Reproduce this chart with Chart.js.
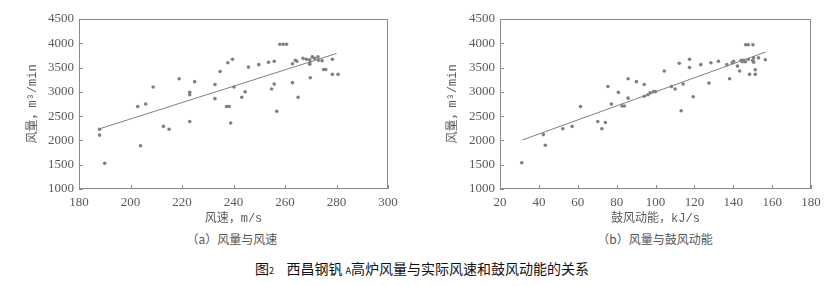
<!DOCTYPE html>
<html>
<head>
<meta charset="utf-8">
<script src="https://cdn.jsdelivr.net/npm/chart.js@4.4.0/dist/chart.umd.min.js"></script>
<style>
  body { margin: 0; background: #fff; width: 837px; height: 286px; position: relative; overflow: hidden; }
  .box { position: absolute; top: 0; width: 420px; height: 230px; }
  .sub { position: absolute; top: 231px; font-family: 'Noto Sans CJK SC', sans-serif; font-size: 12px; color: #555; text-align: center; width: 300px; line-height: 16px; }
  .cap { position: absolute; top: 259px; left: 0; width: 844px; text-align: center; font-family: 'Noto Sans CJK SC', sans-serif; font-size: 14px; color: #111; line-height: 18px; }
  .cap small { font-size: 9px; }
</style>
</head>
<body>
<div class="box" style="left:0"><canvas id="chartA" width="420" height="230"></canvas></div>
<div class="box" style="left:420px"><canvas id="chartB" width="420" height="230"></canvas></div>
<div class="sub" style="left:82px">（a）风量与风速</div>
<div class="sub" style="left:505px">（b）风量与鼓风动能</div>
<div class="cap">图<small>2</small>&nbsp;&nbsp;&nbsp;&nbsp;西昌钢钒 <small>A</small>高炉风量与实际风速和鼓风动能的关系</div>
<script>
// (a) 风速 m/s -> 风量 m3/min
const windSpeed = [188, 188, 190, 202.8, 205.9, 203.9, 208.8, 212.8, 215, 218.9, 223, 223, 223, 224.9,
  232.8, 232.8, 234.8, 237.8, 239.6, 237.3, 238.3, 238.9, 240.2, 243.2, 244.5, 245.8, 249.8, 253.6,
  255.8, 254.8, 255.8, 256.8, 258, 259.3, 260.6, 262.9, 262.9, 264, 264.6, 265.1, 267, 268.3,
  269.6, 269.6, 269.6, 269.8, 270.6, 271.5, 272.8, 273, 274.4, 275, 275.8, 278.4, 278.4, 280.6];
const airVolumeA = [2230, 2110, 1530, 2700, 2750, 1890, 3100, 2290, 2230, 3270, 2990, 2940, 2390, 3210,
  3150, 2860, 3420, 3600, 3670, 2700, 2700, 2360, 3100, 2890, 3000, 3510, 3560, 3610,
  3630, 3060, 3160, 2600, 3980, 3980, 3980, 3190, 3580, 3650, 3630, 2890, 3690, 3670,
  3660, 3600, 3570, 3290, 3720, 3690, 3720, 3650, 3640, 3460, 3460, 3670, 3360, 3360];
const fitSpeed = [188, 280];
const fitVolumeA = [2240, 3790];

// (b) 鼓风动能 kJ/s -> 风量 m3/min
const kineticEnergy = [31.2, 42.3, 43.3, 52.3, 57.1, 61.4, 70.3, 72.4, 74.2, 75.5, 77.3, 80.9, 82.8, 84,
  85.9, 85.9, 90.2, 94.2, 94.2, 96.1, 97.3, 99, 100, 104.5, 108.2, 110.1, 112.2, 113.2, 114.2,
  117.5, 117.5, 119.4, 123.3, 127.5, 128.5, 132.4, 136.7, 138.1, 139.5, 140.2, 142.2, 143.3, 144.1,
  144.6, 145.3, 146.2, 146.4, 147.7, 147.7, 148.4, 150.1, 150, 150.5, 150.5, 151.3, 151.3, 153, 156.5];
const airVolumeB = [1540, 2120, 1900, 2240, 2290, 2700, 2390, 2240, 2370, 3110, 2750, 2990, 2710, 2710,
  3270, 2870, 3210, 3150, 2910, 2940, 2980, 3005, 3005, 3430, 3110, 3060, 3590, 2610, 3160,
  3670, 3500, 2900, 3560, 3180, 3600, 3630, 3560, 3270, 3600, 3630, 3530, 3430, 3650,
  3620, 3650, 3620, 3970, 3970, 3670, 3360, 3970, 3650, 3610, 3700, 3455, 3360, 3700, 3660];
const fitEnergy = [31.5, 156.7];
const fitVolumeB = [2010, 3820];

const yTicks = [1000, 1500, 2000, 2500, 3000, 3500, 4000, 4500];

const gray = '#5a5a5a';
const numFont = { family: 'Liberation Serif', size: 13 };
const titleFont = { family: "'Liberation Mono', 'Noto Sans CJK SC', monospace", size: 12 };

// frame round the plot and short ticks pointing inward
const frameTicks = {
  id: 'frameTicks',
  afterDatasetsDraw(chart) {
    const { ctx, chartArea: a, scales } = chart;
    ctx.save();
    ctx.strokeStyle = '#8a8a8a';
    ctx.lineWidth = 1;
    ctx.strokeRect(a.left + 0.5, a.top + 0.5, a.right - a.left - 1, a.bottom - a.top - 1);
    ctx.beginPath();
    scales.x.ticks.forEach(t => {
      const px = Math.round(scales.x.getPixelForValue(t.value)) + 0.5;
      ctx.moveTo(px, a.bottom);
      ctx.lineTo(px, a.bottom - 4);
    });
    scales.y.ticks.forEach(t => {
      const py = Math.round(scales.y.getPixelForValue(t.value)) + 0.5;
      ctx.moveTo(a.left, py);
      ctx.lineTo(a.left + 4, py);
    });
    ctx.stroke();
    ctx.restore();
  }
};

function makeChart(id, xs, ys, fitX, fitY, xMin, xMax, xTitle, plotLeft, plotRight) {
  const pts = xs.map((x, i) => ({ x: x, y: ys[i] }));
  const line = fitX.map((x, i) => ({ x: x, y: fitY[i] }));
  return new Chart(document.getElementById(id), {
    type: 'scatter',
    data: {
      datasets: [
        { data: pts, pointRadius: 1.8, pointBackgroundColor: '#808080', pointBorderWidth: 0, order: 1 },
        { type: 'line', data: line, borderColor: '#808080', borderWidth: 1, pointRadius: 0, showLine: true, order: 0 }
      ]
    },
    options: {
      responsive: false,
      animation: false,
      layout: { padding: { top: 19, right: 420 - plotRight, left: 0, bottom: 0 } },
      plugins: { legend: { display: false }, tooltip: { enabled: false } },
      scales: {
        x: {
          type: 'linear', min: xMin, max: xMax,
          afterFit: s => { s.height = 230 - 189; },
          grid: { display: false, drawTicks: false },
          border: { display: false },
          ticks: { stepSize: 20, color: gray, font: numFont, padding: 6, maxRotation: 0, callback: v => String(v) },
          title: { display: true, text: xTitle, color: gray, font: titleFont, padding: { top: 0, bottom: 4 } }
        },
        y: {
          type: 'linear', min: 1000, max: 4500,
          afterFit: s => { s.width = plotLeft; },
          afterBuildTicks: s => { s.ticks = yTicks.map(v => ({ value: v })); },
          grid: { display: false, drawTicks: false },
          border: { display: false },
          ticks: { color: gray, font: numFont, padding: 5, callback: v => String(v) },
          title: { display: true, text: '风量，m³/min', color: gray, font: titleFont, padding: { top: 26, bottom: 0 } }
        }
      }
    },
    plugins: [frameTicks]
  });
}

makeChart('chartA', windSpeed, airVolumeA, fitSpeed, fitVolumeA, 180, 300, '风速，m/s', 79, 388);
makeChart('chartB', kineticEnergy, airVolumeB, fitEnergy, fitVolumeB, 20, 180, '鼓风动能，kJ/s', 80, 391);
</script>
</body>
</html>
